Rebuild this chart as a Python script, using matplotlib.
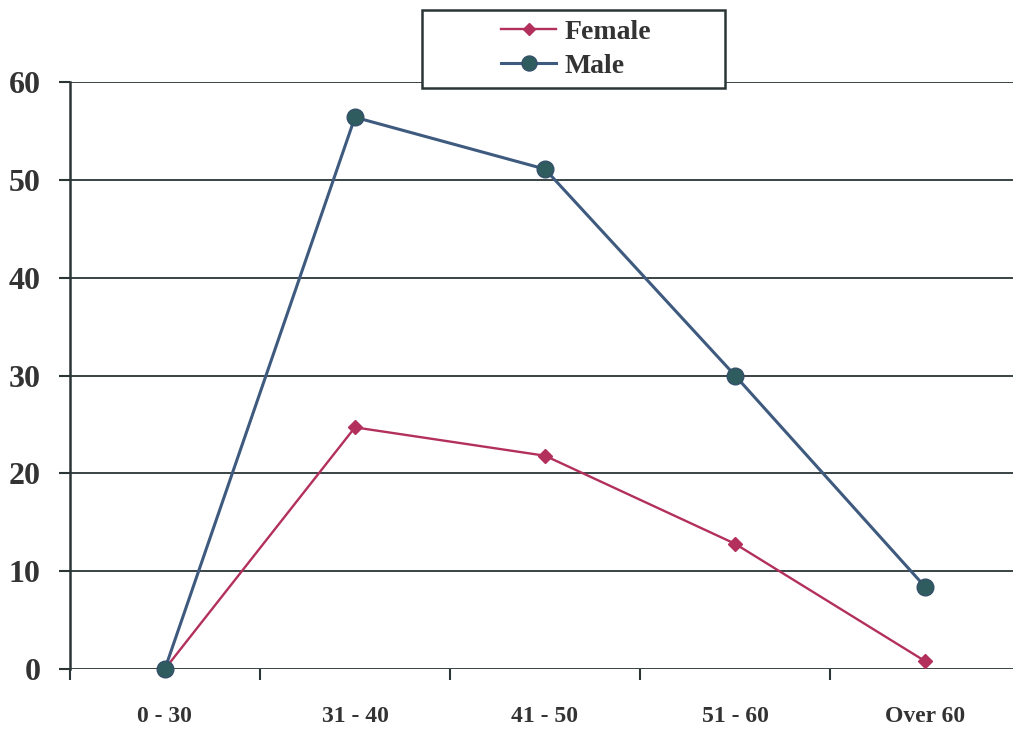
#!/usr/bin/env python3
import numpy as np
import matplotlib
matplotlib.use('Agg')
import matplotlib.pyplot as plt
from matplotlib.patches import Rectangle

# data
age_groups = ['0 - 30', '31 - 40', '41 - 50', '51 - 60', 'Over 60']
female = [0, 24.7, 21.8, 12.8, 0.8]
male = [0, 56.4, 51.1, 30.0, 8.4]
y_ticks = [0, 10, 20, 30, 40, 50, 60]

col_female = '#b3305c'
col_male_line = '#3e5a7e'
col_male_mark = '#2f5c5e'
col_axis = '#2b3535'

plt.rcParams['font.family'] = ['Liberation Serif', 'DejaVu Serif']
plt.rcParams['font.weight'] = 'bold'


# ============================================================================
def plot_chart():
    W, H = 1013, 730
    fig = plt.figure(figsize=(W / 100, H / 100), dpi=100)
    ax = fig.add_axes([0.069, 0.0836, 0.938, 0.804])

    x = np.arange(len(age_groups))

    # gridlines
    for yv in y_ticks:
        ax.axhline(yv, color=col_axis, lw=1.3, zorder=1)

    ax.plot(x, female, color=col_female, lw=1.7, marker='D', ms=7,
            mfc=col_female, mec=col_female, label='Female', zorder=3,
            clip_on=False)
    ax.plot(x, male, color=col_male_line, lw=2.2, marker='o', ms=12,
            mfc=col_male_mark, mec='#34506a', label='Male', zorder=4,
            clip_on=False)

    ax.set_xlim(-0.5, 4.5)
    ax.set_ylim(0, 60)

    for s in ['top', 'right', 'bottom']:
        ax.spines[s].set_visible(False)
    ax.spines['left'].set_color(col_axis)
    ax.spines['left'].set_linewidth(1.8)

    # category labels centred, ticks on boundaries
    ax.set_xticks(x)
    ax.set_xticklabels(age_groups, fontsize=17, fontweight='bold', color='#333333')
    ax.tick_params(axis='x', length=0, pad=27)
    ax.set_xticks(np.arange(-0.5, 4.5, 1.0), minor=True)
    ax.tick_params(axis='x', which='minor', length=8, width=1.5, color=col_axis,
                   direction='out')

    ax.set_yticks(y_ticks)
    ax.set_yticklabels([str(v) for v in y_ticks], fontsize=23,
                       fontweight='bold', color='#333333')
    ax.tick_params(axis='y', length=8, width=1.5, color=col_axis, pad=13)

    # legend box drawn in figure pixels, entries centred inside
    x0, y0, x1, y1 = 422, 10, 725, 88
    box = Rectangle((x0 / W, 1 - y1 / H), (x1 - x0) / W, (y1 - y0) / H,
                    transform=fig.transFigure, facecolor='white',
                    edgecolor=col_axis, lw=1.8, zorder=5)
    fig.patches.append(box)
    leg = fig.legend(loc='center', bbox_to_anchor=(576 / W, 1 - 49 / H),
                     prop={'size': 20, 'weight': 'bold'}, frameon=False,
                     handlelength=2.0, handletextpad=0.3, labelspacing=0.3,
                     borderaxespad=0, markerscale=0.9)
    leg.set_zorder(6)
    for t in leg.get_texts():
        t.set_color('#333333')

    fig.savefig('out.png', dpi=100, facecolor='white')


# ============================================================================
if __name__ == "__main__":
    plot_chart()
